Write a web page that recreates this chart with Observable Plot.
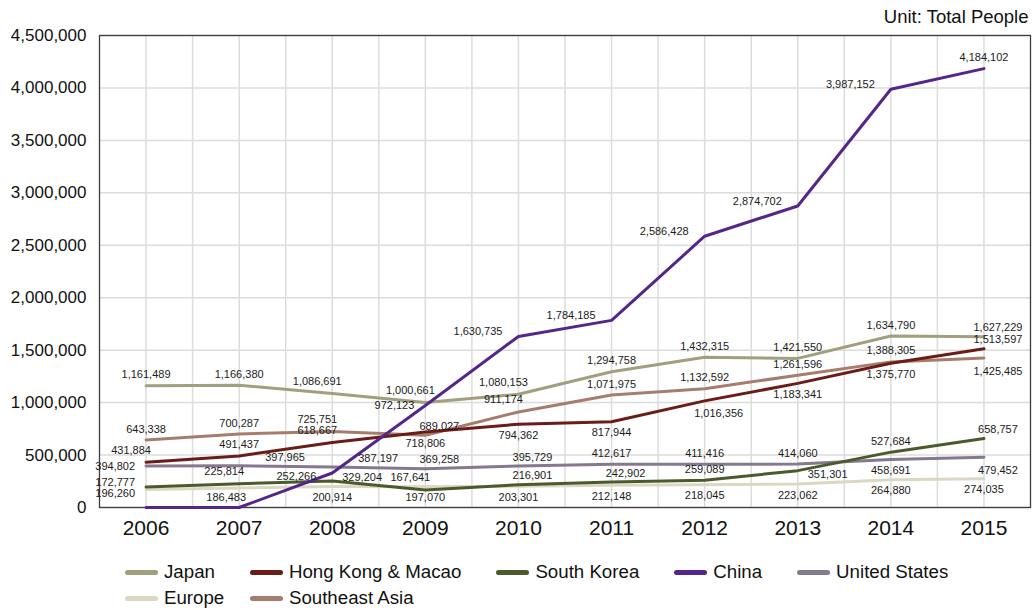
<!DOCTYPE html>
<html>
<head>
<meta charset="utf-8">
<script src="https://cdn.jsdelivr.net/npm/d3@7"></script>
<script src="https://cdn.jsdelivr.net/npm/@observablehq/plot@0.6"></script>
<style>
  html, body { margin: 0; padding: 0; background: #fff; }
  body { width: 1032px; height: 610px; overflow: hidden; font-family: "Liberation Sans", Arial, Helvetica, sans-serif; }
  #legend { padding-left: 125px; padding-top: 11px; font-size: 18.7px; color: #111; }
  .row { display: flex; height: 26px; align-items: center; }
  .item { display: flex; align-items: center; margin-right: 35px; white-space: nowrap; }
  .sw { width: 33px; height: 5px; border-radius: 3px; margin-right: 6px; }
</style>
</head>
<body>
<div id="chart"></div>
<div id="legend"></div>
<script>
// ---- data ----
const years = [2006, 2007, 2008, 2009, 2010, 2011, 2012, 2013, 2014, 2015];
const japan = [1161489, 1166380, 1086691, 1000661, 1080153, 1294758, 1432315, 1421550, 1634790, 1627229];
const hongKongMacao = [431884, 491437, 618667, 718806, 794362, 817944, 1016356, 1183341, 1375770, 1513597];
const southKorea = [196260, 225814, 252266, 167641, 216901, 242902, 259089, 351301, 527684, 658757];
const china = [0, 0, 329204, 972123, 1630735, 1784185, 2586428, 2874702, 3987152, 4184102];
const unitedStates = [394802, 397965, 387197, 369258, 395729, 412617, 411416, 414060, 458691, 479452];
const europe = [172777, 186483, 200914, 197070, 203301, 212148, 218045, 223062, 264880, 274035];
const southeastAsia = [643338, 700287, 725751, 689027, 911174, 1071975, 1132592, 1261596, 1388305, 1425485];

const seriesNames = ["Japan", "Hong Kong & Macao", "South Korea", "China", "United States", "Europe", "Southeast Asia"];
const seriesValues = [japan, hongKongMacao, southKorea, china, unitedStates, europe, southeastAsia];
const seriesColors = ["#a19f7e", "#6a1c17", "#4b5a2b", "#55268a", "#85788f", "#dcd7c3", "#a67d6d"];
const yTicks = [0, 500000, 1000000, 1500000, 2000000, 2500000, 3000000, 3500000, 4000000, 4500000];
const unitText = "Unit: Total People";

// label placement hints (side of the point where each value label sits)
const labelPlacement = [
  ["a", "a", "al", "al", "al", "a", "a", "a", "a", "ar"],
  ["al", "a", "al", "b", "b", "b", "br", "b", "b", "ar"],
  ["ld", "al", "L", "al", "ar", "ar", "a", "r", "a", "ar"],
  ["", "", "r", "l", "L", "L", "L", "L", "L", "a"],
  ["l", "R", "R", "ar", "ar", "a", "a", "a", "b", "br"],
  ["lu", "bl", "b", "b", "b", "b", "b", "b", "b", "b"],
  ["a", "a", "al", "ar", "al", "a", "a", "a", "a", "br"]
];
const placeStyle = {
  a:  {textAnchor: "middle", dx: 0,   dy: -11},
  b:  {textAnchor: "middle", dx: 0,   dy: 11},
  al: {textAnchor: "middle", dx: -15, dy: -12},
  ar: {textAnchor: "middle", dx: 14,  dy: -9},
  bl: {textAnchor: "middle", dx: -13, dy: 10},
  br: {textAnchor: "middle", dx: 14,  dy: 13},
  l:  {textAnchor: "end",    dx: -11, dy: 0},
  lu: {textAnchor: "end",    dx: -11, dy: -7},
  ld: {textAnchor: "end",    dx: -11, dy: 7},
  L:  {textAnchor: "end",    dx: -16, dy: -5},
  r:  {textAnchor: "start",  dx: 10,  dy: 4},
  R:  {textAnchor: "start",  dx: 26,  dy: -8}
};

// ---- build tables ----
const drawOrder = [5, 6, 4, 2, 1, 0, 3]; // China on top
const rows = [];
for (const si of drawOrder) {
  years.forEach((yr, i) => rows.push({series: seriesNames[si], year: yr, value: seriesValues[si][i], place: labelPlacement[si][i]}));
}
const labelRows = rows.filter(d => d.place && d.value > 0);
const gridX = years.flatMap(y => [y, y + 0.5]).filter(v => v < 2015.5);
const fmt = d3.format(",");

const labelMarks = Object.keys(placeStyle).map(code =>
  Plot.text(labelRows.filter(d => d.place === code), {
    x: "year", y: "value", text: d => fmt(d.value),
    fontSize: 11, fill: "#1a1a1a", ...placeStyle[code]
  })
);

const chart = Plot.plot({
  width: 1032,
  height: 548,
  marginLeft: 99,
  marginRight: 2,
  marginTop: 35,
  marginBottom: 41,
  style: {fontFamily: "'Liberation Sans', Arial, Helvetica, sans-serif", background: "#fff", overflow: "visible"},
  x: {domain: [2005.5, 2015.5], label: null},
  y: {domain: [0, 4500000], label: null},
  color: {domain: seriesNames, range: seriesColors},
  marks: [
    Plot.ruleX(gridX, {stroke: "#dcdcdc", strokeWidth: 1.5}),
    Plot.ruleY(yTicks, {stroke: "#dcdcdc", strokeWidth: 1.5}),
    Plot.frame({stroke: "#3c3c3c", strokeWidth: 1.3}),
    Plot.axisX(years, {label: null, tickSize: 0, tickPadding: 13, fontSize: 21, tickFormat: d => String(d), fill: "#111"}),
    Plot.axisY(yTicks, {label: null, tickSize: 0, tickPadding: 13, fontSize: 17, tickFormat: d => fmt(d), fill: "#111"}),
    Plot.line(rows, {x: "year", y: "value", z: "series", stroke: "series", strokeWidth: 3, strokeLinejoin: "round"}),
    ...labelMarks,
    Plot.text([unitText], {frameAnchor: "top-right", lineAnchor: "middle", textAnchor: "end", dx: -2, dy: -18, fontSize: 18.5, fill: "#111"})
  ]
});
document.getElementById("chart").appendChild(chart);

// ---- legend ----
const legend = document.getElementById("legend");
const layout = [[0, 1, 2, 3, 4], [5, 6]];
const rowEls = layout.map(idx => {
  const row = document.createElement("div");
  row.className = "row";
  idx.forEach(i => {
    const it = document.createElement("div");
    it.className = "item";
    const sw = document.createElement("span");
    sw.className = "sw";
    sw.style.background = seriesColors[i];
    const tx = document.createElement("span");
    tx.textContent = seriesNames[i];
    it.appendChild(sw);
    it.appendChild(tx);
    row.appendChild(it);
  });
  legend.appendChild(row);
  return row;
});
// align second-row columns with the first row
const firstRowItems = rowEls[0].children;
const secondRowItems = rowEls[1].children;
for (let k = 0; k < secondRowItems.length - 1; k++) {
  const targetLeft = firstRowItems[k + 1].getBoundingClientRect().left;
  const it = secondRowItems[k];
  const left = it.getBoundingClientRect().left;
  it.style.width = (targetLeft - left) + "px";
  it.style.marginRight = "0px";
}
</script>
</body>
</html>
